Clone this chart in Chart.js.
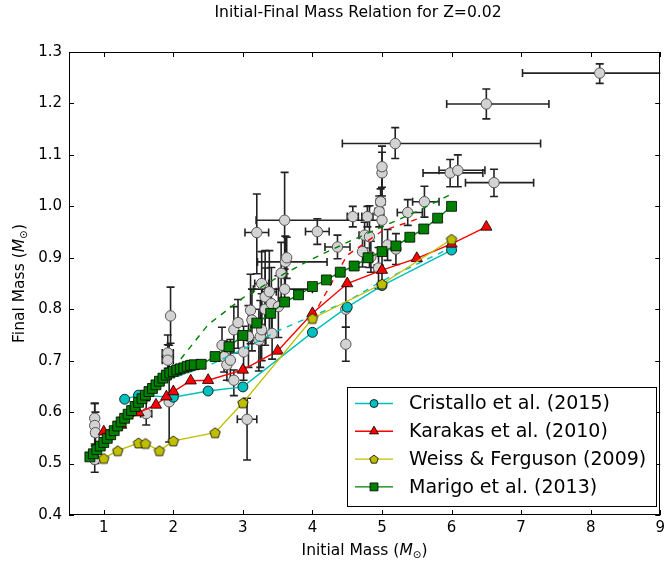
<!DOCTYPE html>
<html lang="en">
<head>
<meta charset="UTF-8">
<title>Initial-Final Mass Relation for Z=0.02</title>
<script src="https://cdn.jsdelivr.net/npm/chart.js"></script>
<style>
  html, body { margin: 0; padding: 0; background: #fff; }
</style>
</head>
<body>
<canvas id="ifmr" width="669" height="569"></canvas>
<script>
// ---- data ----
const xTicks = [1, 2, 3, 4, 5, 6, 7, 8, 9];
const yTicks = [0.4, 0.5, 0.6, 0.7, 0.8, 0.9, 1.0, 1.1, 1.2, 1.3];

const cristalloMi = [1.3, 1.5, 2.0, 2.5, 3.0, 4.0, 4.5, 5.0, 6.0];
const cristalloMf = [0.625, 0.633, 0.629, 0.641, 0.649, 0.755, 0.804, 0.846, 0.915];

const karakasMi = [1.0, 1.25, 1.5, 1.75, 1.9, 2.0, 2.25, 2.5, 3.0, 3.5, 4.0, 4.5, 5.0, 5.5, 6.0, 6.5];
const karakasMf = [0.562, 0.575, 0.599, 0.614, 0.630, 0.640, 0.661, 0.662, 0.682, 0.719, 0.792, 0.850, 0.876, 0.899, 0.927, 0.960];

const weissMi = [1.0, 1.2, 1.5, 1.6, 1.8, 2.0, 2.6, 3.0, 4.0, 5.0, 6.0];
const weissMf = [0.510, 0.525, 0.540, 0.539, 0.525, 0.544, 0.560, 0.618, 0.782, 0.849, 0.936];

const marigoMi = [0.80, 0.85, 0.90, 0.95, 1.00, 1.05, 1.10, 1.15, 1.20, 1.25, 1.30, 1.35, 1.40, 1.45,
                  1.50, 1.55, 1.60, 1.65, 1.70, 1.75, 1.80, 1.85, 1.90, 1.95, 2.00, 2.05, 2.10, 2.15,
                  2.20, 2.25, 2.30, 2.40, 2.60, 2.80, 3.00, 3.20, 3.40, 3.60, 3.80, 4.00, 4.20, 4.40,
                  4.60, 4.80, 5.00, 5.20, 5.40, 5.60, 5.80, 6.00];
const marigoMf = [0.513, 0.519, 0.527, 0.534, 0.541, 0.549, 0.556, 0.564, 0.573, 0.581, 0.588, 0.596, 0.603, 0.611,
                  0.619, 0.626, 0.633, 0.640, 0.646, 0.653, 0.660, 0.666, 0.672, 0.676, 0.679, 0.682, 0.684, 0.686,
                  0.689, 0.691, 0.692, 0.693, 0.708, 0.727, 0.749, 0.773, 0.792, 0.814, 0.828, 0.844, 0.857, 0.872,
                  0.884, 0.900, 0.912, 0.923, 0.940, 0.956, 0.977, 1.000];

// dashed companion curves (not in legend)
const cristalloAltMi = [1.9, 2.5, 3.0, 3.5, 4.0, 4.5, 5.0, 6.0];
const cristalloAltMf = [0.662, 0.690, 0.722, 0.758, 0.787, 0.815, 0.855, 0.920];
const karakasAltMi = [4.0, 4.5, 5.0, 5.5];
const karakasAltMf = [0.785, 0.905, 0.952, 0.975];
const marigoAltMi = [2.0, 2.5, 3.0, 3.5, 4.0, 4.5, 5.0, 5.5, 6.0];
const marigoAltMf = [0.685, 0.770, 0.822, 0.862, 0.898, 0.930, 0.960, 0.990, 1.024];

// observed white dwarfs with error bars
const obsMi = [0.87, 0.87, 0.88, 0.87, 1.61, 1.96, 1.92, 1.92, 1.94, 2.70, 2.73, 2.77, 2.82, 2.87, 2.87, 2.93,
               3.01, 3.06, 3.08, 3.11, 3.13, 3.20, 3.23, 3.25, 3.27, 3.27, 3.32, 3.32, 3.38, 3.41, 3.42, 3.51,
               3.55, 3.60, 3.61, 3.63, 3.60, 4.07, 4.36, 4.48, 4.48, 4.58, 4.72, 4.75, 4.79, 4.82, 4.84, 4.95,
               4.96, 4.98, 5.00, 5.00, 5.00, 5.08, 5.20, 5.37, 5.61, 5.98, 6.09, 6.61, 6.50, 8.13, 5.19];
const obsMf = [0.588, 0.574, 0.560, 0.508, 0.597, 0.787, 0.715, 0.701, 0.620, 0.730, 0.708, 0.692, 0.701, 0.662, 0.760, 0.774,
               0.717, 0.586, 0.747, 0.798, 0.779, 0.949, 0.740, 0.747, 0.760, 0.850, 0.824, 0.800, 0.834, 0.811, 0.753, 0.805,
               0.870, 0.839, 0.892, 0.900, 0.973, 0.951, 0.921, 0.732, 0.800, 0.980, 0.912, 0.944, 0.980, 0.941, 0.902, 0.880,
               0.990, 1.009, 0.973, 1.065, 1.077, 0.925, 0.917, 0.988, 1.009, 1.065, 1.070, 1.046, 1.199, 1.259, 1.122];
const obsMiErrLo = [0, 0, 0.05, 0, 0.08, 0, 0.08, 0.08, 0, 0, 0.05, 0, 0, 0, 0, 0.05,
                    0, 0.14, 0, 0, 0, 0.17, 0.10, 0, 0, 0.10, 0, 0, 0.10, 0, 0, 0,
                    0, 0.45, 0.40, 0, 0.41, 0.17, 0.18, 0, 0, 0.08, 0, 0.08, 0.08, 0, 0, 0.06,
                    0.06, 0.06, 0, 0, 0, 0, 0, 0.15, 0.17, 0.39, 0.27, 0.41, 0.57, 1.11, 0.76];
const obsMiErrHi = [0, 0, 0.05, 0, 0.08, 0, 0.08, 0.08, 0, 0, 0.05, 0, 0, 0, 0, 0.05,
                    0, 0.14, 0, 0, 0, 0.17, 0.10, 0, 0, 0.10, 0, 0, 0.10, 0, 0, 0,
                    0, 0.40, 0.60, 0, 1.40, 0.17, 0.18, 0, 0, 0.08, 0, 0.08, 0.08, 0, 0, 0.06,
                    0.06, 0.06, 0, 0, 0, 0, 0, 0.21, 0.21, 0.47, 0.39, 0.57, 0.90, 0.89, 2.09];
const obsMfErrLo = [0.030, 0.040, 0.060, 0.025, 0.022, 0.053, 0.030, 0.035, 0.078, 0.030, 0.030, 0.030, 0.040, 0.030, 0.045, 0.050,
                    0.055, 0.079, 0.060, 0.065, 0.060, 0.080, 0.060, 0.060, 0.060, 0.080, 0.080, 0.070, 0.080, 0.060, 0.050, 0.060,
                    0.060, 0.030, 0.050, 0.040, 0.095, 0.025, 0.023, 0.033, 0.035, 0.020, 0.030, 0.025, 0.020, 0.060, 0.030, 0.040,
                    0.030, 0.025, 0.120, 0.045, 0.040, 0.030, 0.030, 0.025, 0.030, 0.027, 0.032, 0.027, 0.029, 0.020, 0.029];
const obsMfErrHi = [0.029, 0.043, 0.040, 0.030, 0.025, 0.056, 0.035, 0.030, 0.110, 0.035, 0.030, 0.030, 0.040, 0.020, 0.045, 0.045,
                    0.050, 0.041, 0.060, 0.070, 0.060, 0.075, 0.060, 0.070, 0.070, 0.062, 0.090, 0.080, 0.080, 0.070, 0.050, 0.060,
                    0.060, 0.030, 0.050, 0.040, 0.093, 0.025, 0.023, 0.033, 0.045, 0.020, 0.030, 0.025, 0.020, 0.060, 0.030, 0.040,
                    0.030, 0.025, 0.100, 0.040, 0.040, 0.030, 0.030, 0.025, 0.030, 0.026, 0.030, 0.026, 0.029, 0.018, 0.031];

const FONT = '"DejaVu Sans", "Liberation Sans", sans-serif';
const CYAN = '#00bfbf', RED = '#ff0000', OLIVE = '#bfbf00', GREEN = '#008000';

function pts(xs, ys) {
    return xs.map((v, i) => ({ x: v, y: ys[i] }));
}

function pentagonPath(g, cx, cy, r) {
    g.beginPath();
    for (let k = 0; k < 5; k++) {
        const a = -Math.PI / 2 + k * 2 * Math.PI / 5;
        const px = cx + r * Math.cos(a), py = cy + r * Math.sin(a);
        if (k === 0) g.moveTo(px, py); else g.lineTo(px, py);
    }
    g.closePath();
}

function pentagonImage(r) {
    const c = document.createElement('canvas');
    const s = Math.ceil(2 * r + 3);
    c.width = s; c.height = s;
    const g = c.getContext('2d');
    pentagonPath(g, s / 2, s / 2 + 0.5, r);
    g.fillStyle = OLIVE; g.fill();
    g.lineWidth = 0.8; g.strokeStyle = '#000'; g.stroke();
    return c;
}
const pentagon = pentagonImage(5.5);

const modelSets = [
    { label: 'Cristallo et al. (2015)', data: pts(cristalloMi, cristalloMf), borderColor: CYAN, backgroundColor: CYAN,
      pointStyle: 'circle', pointRadius: 5, order: 4 },
    { label: 'Karakas et al. (2010)', data: pts(karakasMi, karakasMf), borderColor: RED, backgroundColor: RED,
      pointStyle: 'triangle', pointRadius: 6.5, order: 3 },
    { label: 'Weiss & Ferguson (2009)', data: pts(weissMi, weissMf), borderColor: OLIVE, backgroundColor: OLIVE,
      pointStyle: pentagon, pointRadius: 5.5, order: 2 },
    { label: 'Marigo et al. (2013)', data: pts(marigoMi, marigoMf), borderColor: GREEN, backgroundColor: GREEN,
      pointStyle: 'rect', pointRadius: 7, order: 1 }
];
modelSets.forEach(d => {
    d.showLine = true;
    d.borderWidth = 1.4;
    d.pointBorderColor = '#000';
    d.pointBorderWidth = 0.8;
});

const dashedSets = [
    { data: pts(cristalloAltMi, cristalloAltMf), borderColor: CYAN },
    { data: pts(karakasAltMi, karakasAltMf), borderColor: RED },
    { data: pts(marigoAltMi, marigoAltMf), borderColor: GREEN }
].map(d => Object.assign(d, { showLine: true, borderWidth: 1.4, borderDash: [6, 6], pointRadius: 0, order: 6 }));

const obsSet = {
    data: pts(obsMi, obsMf), showLine: false, pointRadius: 5.2, pointStyle: 'circle',
    backgroundColor: '#d3d3d3', pointBorderColor: '#555', borderColor: '#555', pointBorderWidth: 1, order: 10
};

// error bars under the observed points
const errorBars = {
    id: 'errorBars',
    beforeDatasetsDraw(chart) {
        const { ctx, chartArea: a, scales: { x, y } } = chart;
        ctx.save();
        ctx.beginPath();
        ctx.rect(a.left, a.top, a.right - a.left, a.bottom - a.top);
        ctx.clip();
        ctx.strokeStyle = '#222';
        ctx.lineWidth = 1.6;
        const cap = 4;
        obsMi.forEach((m, i) => {
            const px = x.getPixelForValue(m), py = y.getPixelForValue(obsMf[i]);
            ctx.beginPath();
            if (obsMiErrLo[i] || obsMiErrHi[i]) {
                const x0 = x.getPixelForValue(m - obsMiErrLo[i]), x1 = x.getPixelForValue(m + obsMiErrHi[i]);
                ctx.moveTo(x0, py); ctx.lineTo(x1, py);
                ctx.moveTo(x0, py - cap); ctx.lineTo(x0, py + cap);
                ctx.moveTo(x1, py - cap); ctx.lineTo(x1, py + cap);
            }
            if (obsMfErrLo[i] || obsMfErrHi[i]) {
                const y0 = y.getPixelForValue(obsMf[i] - obsMfErrLo[i]), y1 = y.getPixelForValue(obsMf[i] + obsMfErrHi[i]);
                ctx.moveTo(px, y0); ctx.lineTo(px, y1);
                ctx.moveTo(px - cap, y0); ctx.lineTo(px + cap, y0);
                ctx.moveTo(px - cap, y1); ctx.lineTo(px + cap, y1);
            }
            ctx.stroke();
        });
        ctx.restore();
    }
};

// frame, inward ticks, legend box, title and axis labels
function drawMassLabel(ctx, prefix, cx, cy) {
    const parts = [
        { t: prefix + ' (', f: '15.5px ' + FONT, dy: 0 },
        { t: 'M', f: 'italic 15.5px ' + FONT, dy: 0 },
        { t: '\u2299', f: '10.5px ' + FONT, dy: 4 },
        { t: ')', f: '15.5px ' + FONT, dy: 0 }
    ];
    let w = 0;
    parts.forEach(p => { ctx.font = p.f; p.w = ctx.measureText(p.t).width; w += p.w; });
    let px = cx - w / 2;
    ctx.textAlign = 'left';
    ctx.textBaseline = 'middle';
    parts.forEach(p => { ctx.font = p.f; ctx.fillText(p.t, px, cy + p.dy); px += p.w; });
}

function drawMarker(ctx, ds, x, y) {
    ctx.save();
    ctx.fillStyle = ds.backgroundColor;
    ctx.strokeStyle = '#000';
    ctx.lineWidth = 0.8;
    const r = ds.pointRadius * 0.8;
    ctx.beginPath();
    if (ds.pointStyle === 'circle') {
        ctx.arc(x, y, r, 0, 2 * Math.PI);
    } else if (ds.pointStyle === 'triangle') {
        ctx.moveTo(x, y - r);
        ctx.lineTo(x + r * 0.866, y + r * 0.5);
        ctx.lineTo(x - r * 0.866, y + r * 0.5);
        ctx.closePath();
    } else if (ds.pointStyle === 'rect') {
        const h = r * Math.SQRT1_2;
        ctx.rect(x - h, y - h, 2 * h, 2 * h);
    } else {
        pentagonPath(ctx, x, y + 0.5, r);
    }
    ctx.fill();
    ctx.stroke();
    ctx.restore();
}

const decorations = {
    id: 'decorations',
    afterDraw(chart) {
        const { ctx, chartArea: a, scales: { x, y } } = chart;
        ctx.save();
        ctx.strokeStyle = '#000';
        ctx.lineWidth = 1;
        const t = 5;
        ctx.beginPath();
        xTicks.forEach(v => {
            const px = Math.round(x.getPixelForValue(v)) + 0.5;
            ctx.moveTo(px, a.bottom); ctx.lineTo(px, a.bottom - t);
            ctx.moveTo(px, a.top); ctx.lineTo(px, a.top + t);
        });
        yTicks.forEach(v => {
            const py = Math.round(y.getPixelForValue(v)) + 0.5;
            ctx.moveTo(a.left, py); ctx.lineTo(a.left + t, py);
            ctx.moveTo(a.right, py); ctx.lineTo(a.right - t, py);
        });
        ctx.stroke();
        ctx.strokeRect(Math.round(a.left) + 0.5, Math.round(a.top) + 0.5,
                       Math.round(a.right - a.left) - 1, Math.round(a.bottom - a.top) - 1);

        // legend
        const lx = 347, ly = 387, lw = 309, lh = 119, rowH = 27.8;
        ctx.fillStyle = '#fff';
        ctx.fillRect(lx, ly, lw, lh);
        ctx.strokeRect(lx + 0.5, ly + 0.5, lw, lh);
        modelSets.forEach((ds, i) => {
            const ry = ly + 16.5 + i * rowH;
            ctx.strokeStyle = ds.borderColor;
            ctx.lineWidth = 1.4;
            ctx.beginPath();
            ctx.moveTo(355, ry); ctx.lineTo(393, ry);
            ctx.stroke();
            drawMarker(ctx, ds, 374, ry);
            ctx.fillStyle = '#000';
            ctx.font = '19px ' + FONT;
            ctx.textAlign = 'left';
            ctx.textBaseline = 'middle';
            ctx.fillText(ds.label, 409, ry + 1);
        });

        // title and axis labels
        ctx.fillStyle = '#000';
        ctx.font = '15.6px ' + FONT;
        ctx.textAlign = 'center';
        ctx.textBaseline = 'middle';
        const cx = (a.left + a.right) / 2;
        ctx.fillText('Initial-Final Mass Relation for Z=0.02', 358, 13);
        drawMassLabel(ctx, 'Initial Mass', cx, 551);
        ctx.translate(20, (a.top + a.bottom) / 2);
        ctx.rotate(-Math.PI / 2);
        drawMassLabel(ctx, 'Final Mass', 0, 0);
        ctx.restore();
    }
};

const axisFont = { family: FONT, size: 15 };

new Chart(document.getElementById('ifmr').getContext('2d'), {
    type: 'scatter',
    data: { datasets: [...modelSets, ...dashedSets, obsSet] },
    options: {
        responsive: false,
        animation: false,
        events: [],
        layout: { padding: { top: 52, right: 4, left: 0, bottom: 0 } },
        plugins: { legend: { display: false }, tooltip: { enabled: false } },
        elements: { line: { tension: 0 } },
        scales: {
            x: {
                type: 'linear', min: 0.5, max: 9,
                afterBuildTicks: s => { s.ticks = xTicks.map(v => ({ value: v })); },
                afterFit: s => { s.height = 54; },
                ticks: { font: axisFont, color: '#000', padding: 4, maxRotation: 0, callback: v => String(v) },
                grid: { display: false, drawTicks: false },
                border: { display: false }
            },
            y: {
                type: 'linear', min: 0.4, max: 1.3,
                afterBuildTicks: s => { s.ticks = yTicks.map(v => ({ value: v })); },
                afterFit: s => { s.width = 69; },
                ticks: { font: axisFont, color: '#000', padding: 7, callback: v => v.toFixed(1) },
                grid: { display: false, drawTicks: false },
                border: { display: false }
            }
        }
    },
    plugins: [errorBars, decorations]
});
</script>
</body>
</html>
